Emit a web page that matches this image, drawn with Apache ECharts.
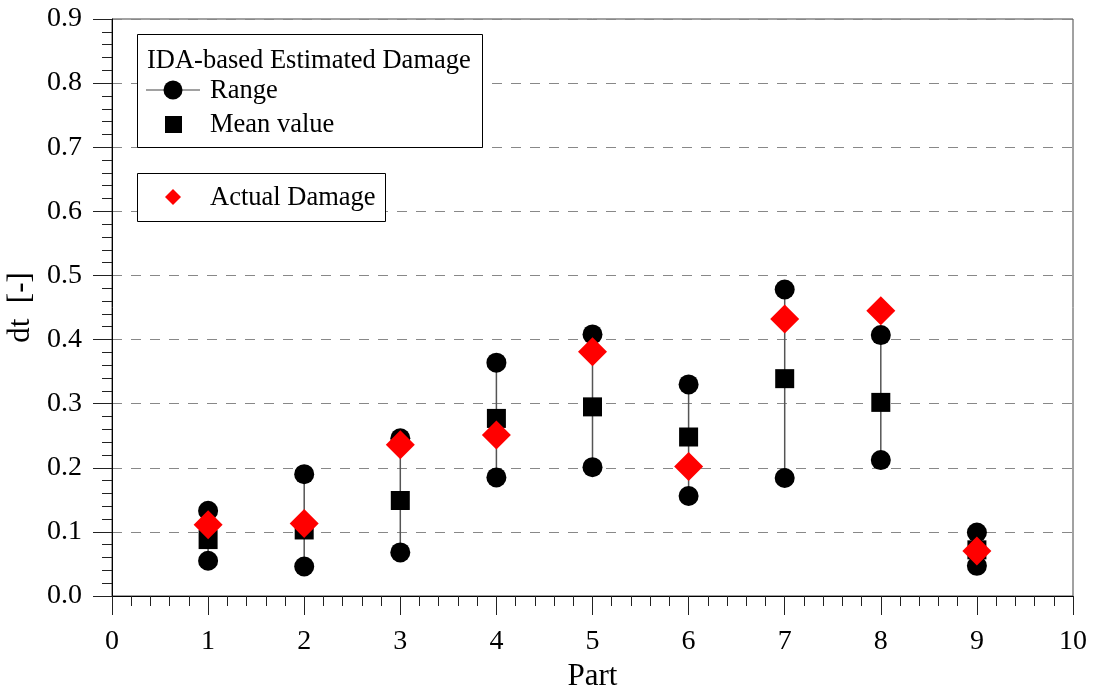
<!DOCTYPE html>
<html>
<head>
<meta charset="utf-8">
<script src="https://cdn.jsdelivr.net/npm/echarts@6/dist/echarts.min.js"></script>
<style>
  html, body { margin: 0; padding: 0; background: #fff; }
  #chart { width: 1094px; height: 690px; }
</style>
</head>
<body>
<div id="chart"></div>
<script>
// Damage index per part: IDA-based estimate (range + mean) vs. actual damage
const parts      = [1, 2, 3, 4, 5, 6, 7, 8, 9];
const rangeLow   = [0.055, 0.046, 0.068, 0.185, 0.201, 0.156, 0.184, 0.212, 0.047];
const rangeHigh  = [0.133, 0.190, 0.246, 0.364, 0.408, 0.330, 0.478, 0.407, 0.099];
const meanValue  = [0.088, 0.103, 0.149, 0.277, 0.295, 0.248, 0.339, 0.302, 0.072];
const actualDmg  = [0.111, 0.113, 0.236, 0.251, 0.381, 0.202, 0.432, 0.445, 0.070];

const legendTitle  = 'IDA-based Estimated Damage';
const legendRange  = 'Range';
const legendMean   = 'Mean value';
const legendActual = 'Actual Damage';

const FONT = '"Liberation Serif", "DejaVu Serif", serif';

const rangeSeg  = parts.map((p, i) => [p, rangeLow[i], rangeHigh[i]]);
const rangePts  = [];
parts.forEach((p, i) => { rangePts.push([p, rangeLow[i]]); rangePts.push([p, rangeHigh[i]]); });
const meanPts   = parts.map((p, i) => [p, meanValue[i]]);
const actualPts = parts.map((p, i) => [p, actualDmg[i]]);

const chart = echarts.init(document.getElementById('chart'), null, { renderer: 'canvas' });

// legend text helper
const label = (x, y, s) => ({
  type: 'text', x: x, y: y, z: 12,
  style: { text: s, fontFamily: FONT, fontSize: 26.5, fill: '#000', verticalAlign: 'middle', align: 'left' }
});

chart.setOption({
  animation: false,
  backgroundColor: '#fff',
  grid: {
    left: 112, right: 21, top: 19, bottom: 94,
    outerBoundsMode: 'none', containLabel: false,
    show: true, borderColor: '#444', borderWidth: 1
  },
  xAxis: {
    type: 'value', min: 0, max: 10, interval: 1,
    name: 'Part', nameLocation: 'middle', nameGap: 65,
    nameTextStyle: { fontFamily: FONT, fontSize: 31, color: '#000' },
    axisLine: { lineStyle: { color: '#000', width: 1 } },
    axisTick: { length: 19, lineStyle: { color: '#222' } },
    minorTick: { show: true, splitNumber: 5, length: 10, lineStyle: { color: '#222' } },
    axisLabel: { margin: 32, fontFamily: FONT, fontSize: 28, color: '#000' },
    splitLine: { show: false }
  },
  yAxis: {
    type: 'value', min: 0, max: 0.9, interval: 0.1,
    name: 'dt  [-]', nameLocation: 'middle', nameGap: 76, nameRotate: 90,
    nameTextStyle: { fontFamily: FONT, fontSize: 31, color: '#000' },
    axisLine: { show: true, lineStyle: { color: '#000', width: 1 } },
    axisTick: { show: true, length: 19, lineStyle: { color: '#222' } },
    minorTick: { show: true, splitNumber: 5, length: 10, lineStyle: { color: '#222' } },
    axisLabel: {
      margin: 30, fontFamily: FONT, fontSize: 28, color: '#000',
      formatter: v => v.toFixed(1)
    },
    splitLine: { show: true, lineStyle: { color: '#888', type: [10, 9], width: 1.2 } }
  },
  series: [
    {
      type: 'custom', name: legendRange, z: 2,
      data: rangeSeg,
      encode: { x: 0, y: [1, 2] },
      renderItem: (params, api) => {
        const a = api.coord([api.value(0), api.value(1)]);
        const b = api.coord([api.value(0), api.value(2)]);
        return {
          type: 'line',
          shape: { x1: a[0], y1: a[1], x2: b[0], y2: b[1] },
          style: { stroke: '#555', lineWidth: 1.5 }
        };
      }
    },
    {
      type: 'scatter', name: legendRange, z: 3,
      data: rangePts, symbol: 'circle', symbolSize: 20,
      itemStyle: { color: '#000', opacity: 1 }
    },
    {
      type: 'scatter', name: legendMean, z: 4,
      data: meanPts, symbol: 'rect', symbolSize: 19,
      itemStyle: { color: '#000', opacity: 1 }
    },
    {
      type: 'scatter', name: legendActual, z: 5,
      data: actualPts, symbol: 'diamond', symbolSize: [29, 29],
      itemStyle: { color: '#ff0000', opacity: 1 }
    }
  ],
  graphic: [
    { type: 'rect', z: 10, shape: { x: 137.5, y: 34.5, width: 345, height: 113 },
      style: { fill: '#fff', stroke: '#000', lineWidth: 1 } },
    { type: 'rect', z: 10, shape: { x: 137.5, y: 173.5, width: 248, height: 48 },
      style: { fill: '#fff', stroke: '#000', lineWidth: 1 } },
    label(147, 61, legendTitle),
    { type: 'line', z: 11, shape: { x1: 146, y1: 90, x2: 200, y2: 90 }, style: { stroke: '#444', lineWidth: 1.2 } },
    { type: 'circle', z: 12, shape: { cx: 173, cy: 90, r: 9.5 }, style: { fill: '#000' } },
    label(210, 91, legendRange),
    { type: 'rect', z: 12, shape: { x: 165, y: 116, width: 17, height: 17 }, style: { fill: '#000' } },
    label(210, 125, legendMean),
    { type: 'polygon', z: 12, shape: { points: [[173, 189], [181, 197], [173, 205], [165, 197]] }, style: { fill: '#ff0000' } },
    label(210, 198, legendActual)
  ]
});
</script>
</body>
</html>
